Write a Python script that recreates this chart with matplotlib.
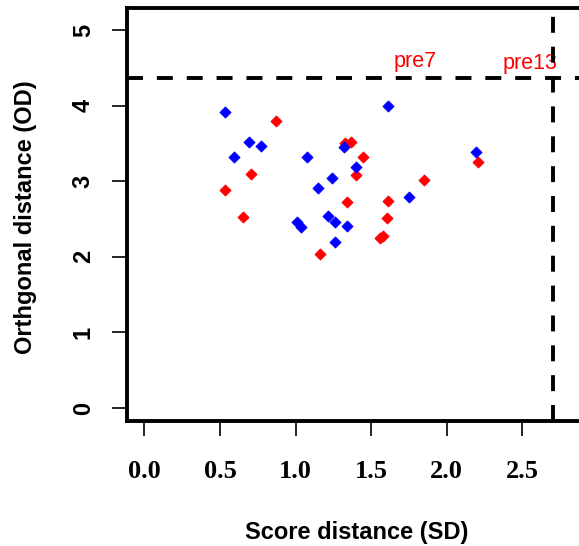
import matplotlib
matplotlib.use("Agg")
import matplotlib.pyplot as plt

# values
red_sd = [0.873, 1.327, 1.365, 1.448, 0.706, 1.400, 0.534, 1.337,
          1.614, 0.655, 1.602, 1.556, 1.579, 1.162, 1.850, 2.205]
red_od = [3.80, 3.51, 3.52, 3.32, 3.09, 3.08, 2.89, 2.72,
          2.74, 2.52, 2.51, 2.25, 2.27, 2.04, 3.01, 3.26]

blue_sd = [0.534, 1.614, 0.694, 0.772, 0.595, 1.074, 1.323, 1.398, 1.239,
           1.151, 1.751, 1.008, 1.036, 1.212, 1.261, 1.339, 1.261, 2.194]
blue_od = [3.92, 4.00, 3.52, 3.47, 3.32, 3.32, 3.45, 3.19, 3.04,
           2.91, 2.79, 2.46, 2.39, 2.54, 2.46, 2.41, 2.19, 3.39]

sd_cutoff = 2.705
od_cutoff = 4.36

label_text = ["pre7", "pre13"]
label_sd = [1.792, 2.551]
label_od = [4.58, 4.56]

x_ticks = [0.0, 0.5, 1.0, 1.5, 2.0, 2.5]
y_ticks = [0, 1, 2, 3, 4, 5]

plt.rcParams["lines.scale_dashes"] = False
plt.rcParams["font.family"] = ["Liberation Sans", "DejaVu Sans"]

W, H = 579, 546
fig = plt.figure(figsize=(W / 100, H / 100), dpi=100)
fig.patch.set_facecolor("white")

# axes box extends past the right edge (picture is cropped)
left_px, bottom_px, top_px = 126.7, 420.7, 8.3
xlim = (-0.117, 3.05)
ylim = (-0.168, 5.287)
px_per_x = 151.2
width_px = (xlim[1] - xlim[0]) * px_per_x
ax = fig.add_axes([left_px / W, (H - bottom_px) / H,
                   width_px / W, (bottom_px - top_px) / H])
ax.set_xlim(*xlim)
ax.set_ylim(*ylim)

ax.scatter(red_sd, red_od, marker="D", s=32, color="#FF0000",
           edgecolors="#FF0000", linewidths=0.6, zorder=3)
ax.scatter(blue_sd, blue_od, marker="D", s=32, color="#0000FF",
           edgecolors="#0000FF", linewidths=0.6, zorder=3)

for t, xx, yy in zip(label_text, label_sd, label_od):
    ax.text(xx, yy, t, color="#FF0000", fontsize=15.5, ha="center",
            va="center", zorder=2)

ax.axhline(od_cutoff, color="black", lw=2.8, dashes=(11.5, 10), zorder=4)
ax.axvline(sd_cutoff, color="black", lw=2.8, dashes=(11.5, 10), zorder=4)

for s in ax.spines.values():
    s.set_linewidth(2.8)

ax.set_xticks(x_ticks)
ax.set_xticklabels([f"{v:.1f}" for v in x_ticks], family="Liberation Serif",
                   fontweight="bold", fontsize=19)
ax.set_yticks(y_ticks)
ax.set_yticklabels([str(v) for v in y_ticks], fontweight="bold",
                   fontsize=17, rotation=90, va="center")
ax.tick_params(axis="both", length=11, width=1.2, direction="out")
ax.tick_params(axis="x", pad=17)
ax.tick_params(axis="y", pad=12)

fig.text(357 / W, 1 - 533 / H, "Score distance (SD)", fontsize=17,
         fontweight="bold", ha="center", va="center")
fig.text(26 / W, 1 - 217 / H, "Orthgonal distance (OD)", fontsize=17,
         fontweight="bold", ha="center", va="center", rotation=90)

fig.savefig("out.png", dpi=100, facecolor="white")
